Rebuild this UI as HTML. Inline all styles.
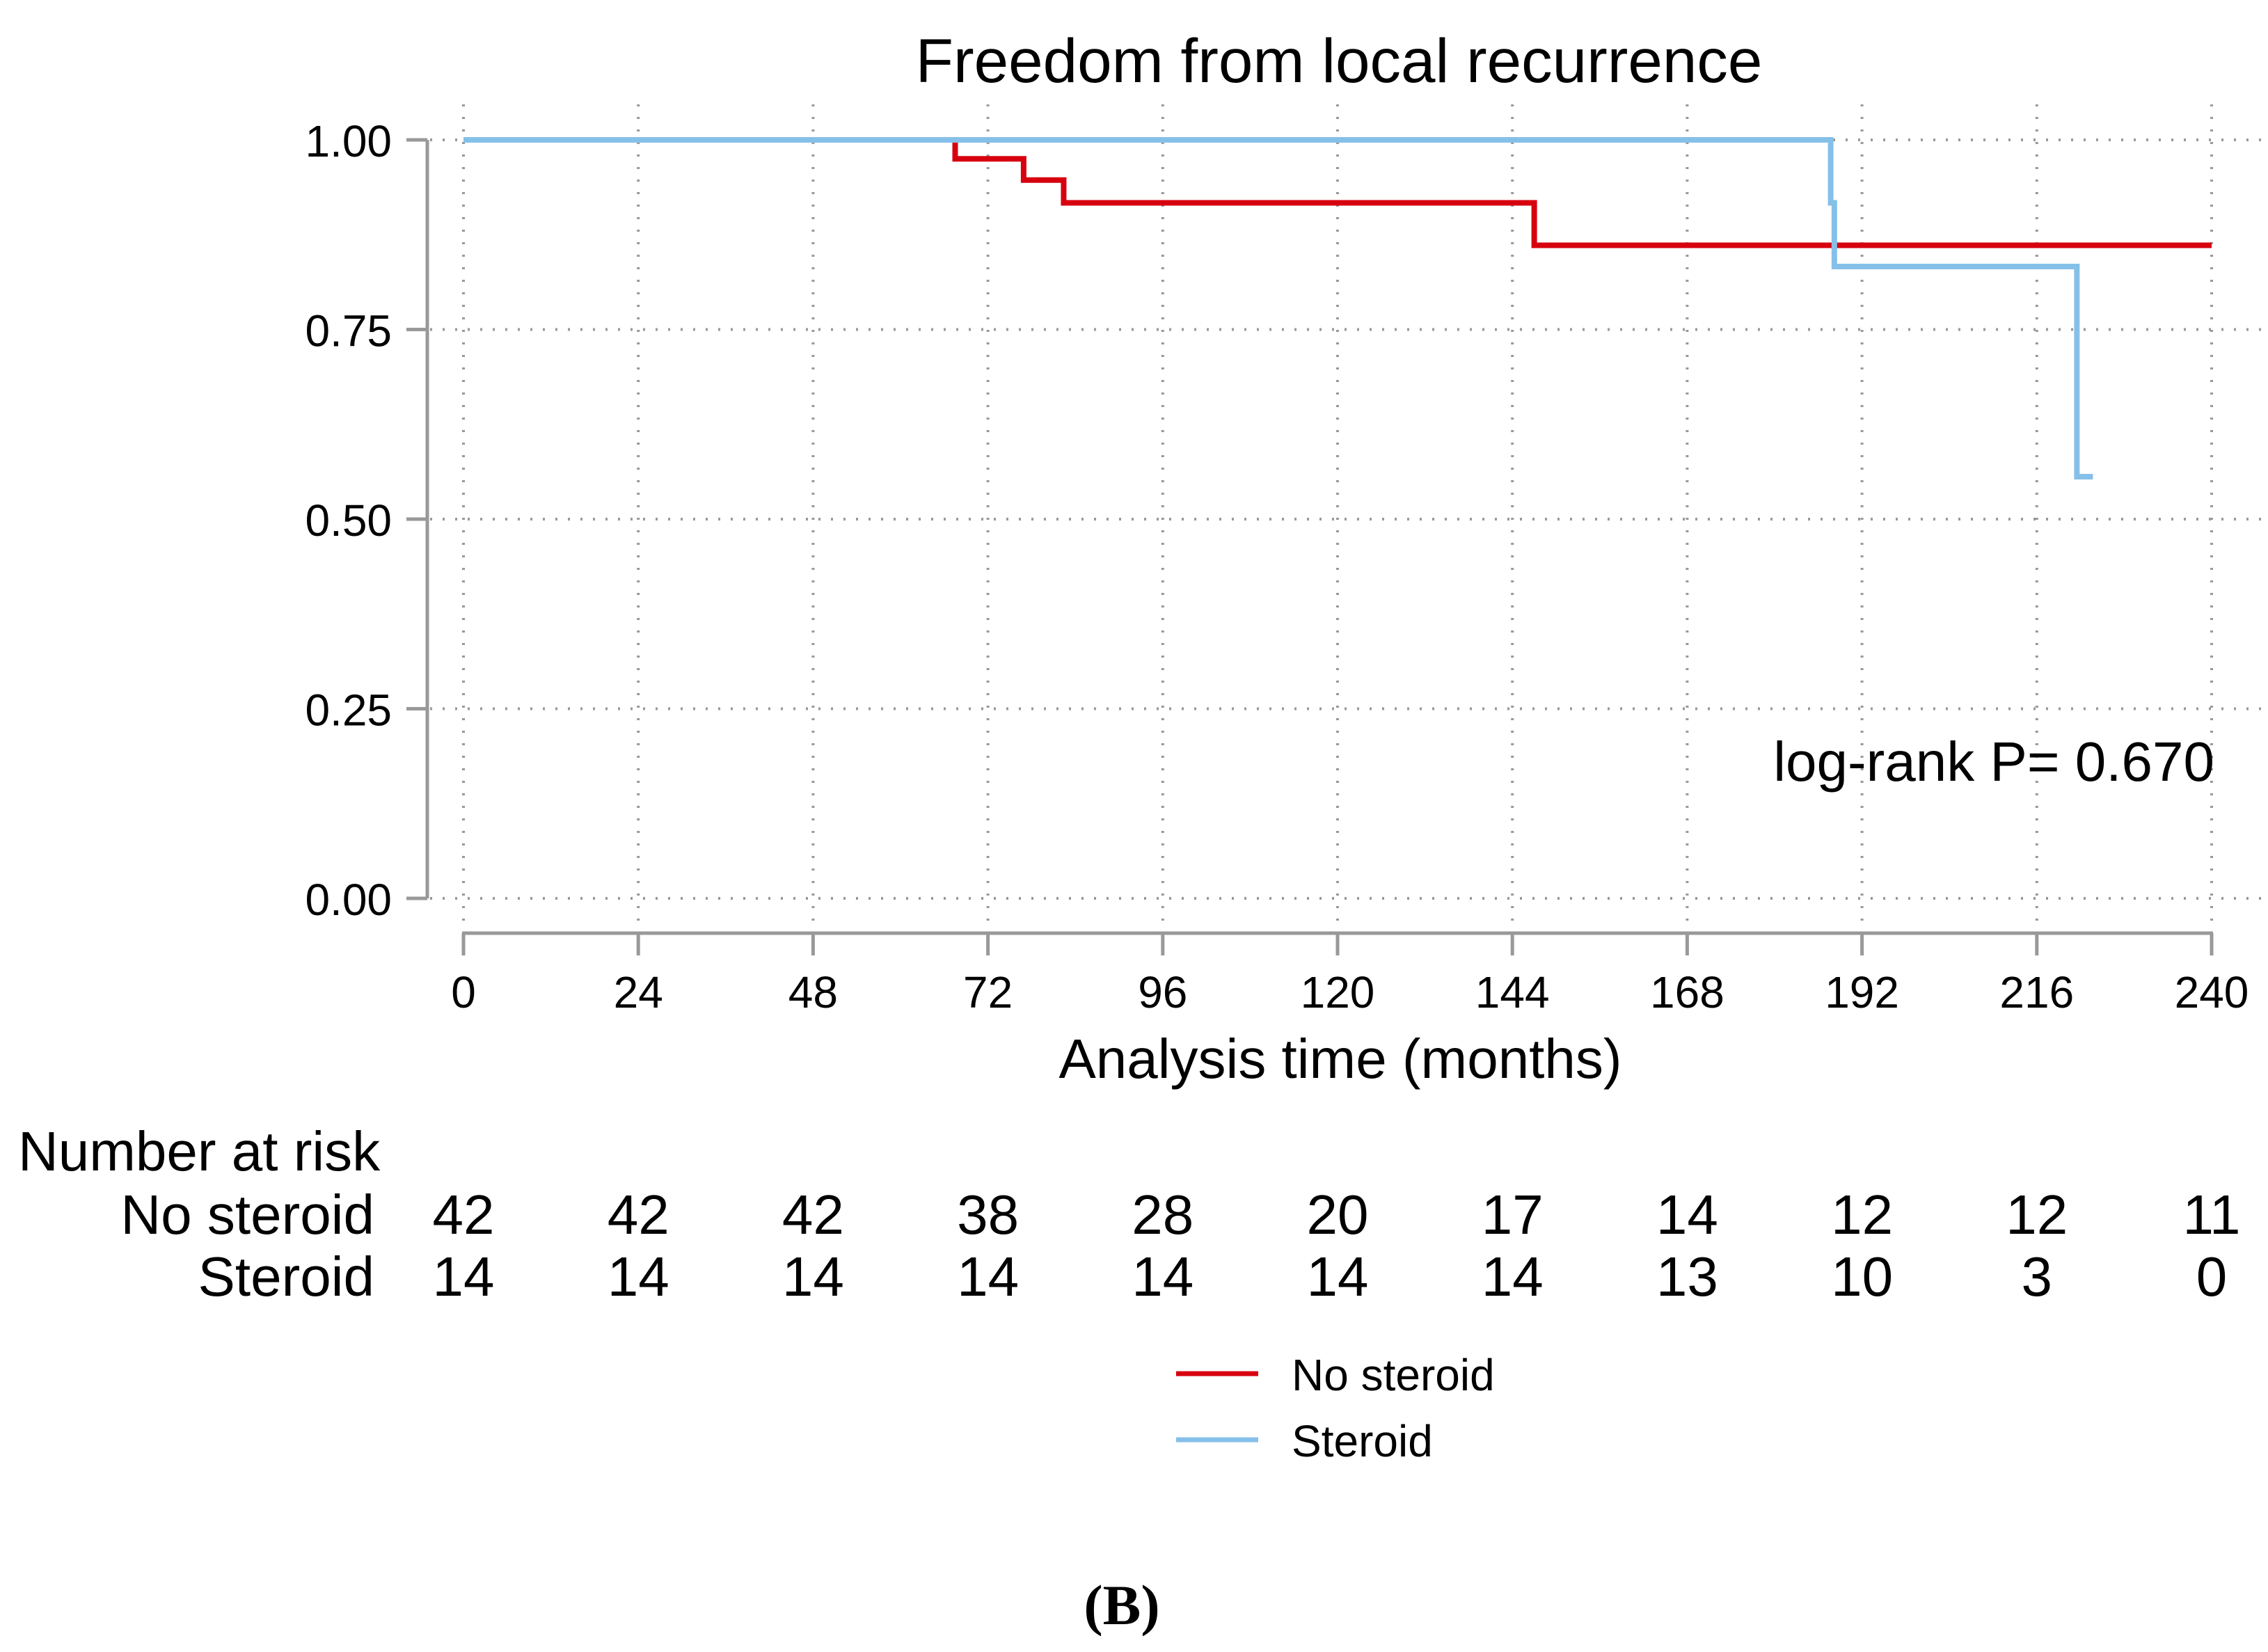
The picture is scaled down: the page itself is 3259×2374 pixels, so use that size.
<!DOCTYPE html>
<html><head><meta charset="utf-8"><style>
html,body{margin:0;padding:0;background:#fff;}
svg{display:block;font-family:"Liberation Sans",Arial,sans-serif;}
</style></head><body>
<svg id="chart" width="3259" height="2374" viewBox="0 0 3259 2374" xmlns="http://www.w3.org/2000/svg">
<rect width="3259" height="2374" fill="#fff"/>
<g id="grid"></g><g id="axes"></g><g id="series"></g><g id="labels"></g>
</svg>
<script>
const xTicks=[0,24,48,72,96,120,144,168,192,216,240];
const yTicks=[0,0.25,0.5,0.75,1.0];
const yTickLabels=["0.00","0.25","0.50","0.75","1.00"];
const noSteroidT=[0,67.5,76.9,82.4,147.0,240];
const noSteroidS=[1,0.975,0.947,0.917,0.861,0.861];
const steroidT=[0,187.7,188.2,221.5,223.7];
const steroidS=[1,0.917,0.833,0.556,0.556];
const riskNoSteroid=[42,42,42,38,28,20,17,14,12,12,11];
const riskSteroid=[14,14,14,14,14,14,14,13,10,3,0];

const NS="http://www.w3.org/2000/svg";
const X=t=>666+t*(3178-666)/240;
const Y=s=>1291-s*(1291-201);
function mk(tag,attrs,parent,text){const e=document.createElementNS(NS,tag);for(const k in attrs)e.setAttribute(k,attrs[k]);if(text!==undefined)e.textContent=text;document.getElementById(parent).appendChild(e);return e;}

xTicks.forEach(t=>{
  const g=mk('line',{x1:X(t),x2:X(t),y1:150,y2:1335,stroke:'#999','stroke-width':4,'stroke-dasharray':'3 15'},'grid');
  
  
  const tk=mk('line',{x1:X(t),x2:X(t),y1:1341,y2:1373,stroke:'#999','stroke-width':5},'axes');
  
  
  const lb=mk('text',{x:X(t),y:1448,'font-size':64,'text-anchor':'middle'},'labels',String(t));
  
  
});
yTicks.forEach((v,i)=>{
  const g=mk('line',{x1:600,x2:3250,y1:Y(v),y2:Y(v),stroke:'#999','stroke-width':4,'stroke-dasharray':'3 15'},'grid');
  
  
  const tk=mk('line',{x1:584,x2:614,y1:Y(v),y2:Y(v),stroke:'#999','stroke-width':5},'axes');
  
  
  const lb=mk('text',{x:563,y:Y(v)+24,'font-size':64,'text-anchor':'end'},'labels',yTickLabels[i]);
  
  
});
const ya=mk('line',{x1:614,x2:614,y1:Y(1),y2:Y(0),stroke:'#999','stroke-width':5},'axes');


const xa=mk('line',{x1:X(0)-2,x2:X(240)+2,y1:1341,y2:1341,stroke:'#999','stroke-width':5},'axes');



function stepPath(ts,ss){let d=`M${X(ts[0])},${Y(ss[0])}`;for(let i=1;i<ts.length;i++){d+=` H${X(ts[i])} V${Y(ss[i])}`;}return d;}
const p1=mk('path',{d:stepPath(noSteroidT,noSteroidS),fill:'none',stroke:'#d7000f','stroke-width':8,'stroke-linejoin':'miter'},'series');


const p2=mk('path',{d:stepPath(steroidT,steroidS),fill:'none',stroke:'#85c0e9','stroke-width':8,'stroke-linejoin':'miter'},'series');



riskNoSteroid.forEach((n,i)=>{
  const t=mk('text',{x:X(xTicks[i]),y:1773,'font-size':80,'text-anchor':'middle'},'labels',String(n));
  
  
});
riskSteroid.forEach((n,i)=>{
  const t=mk('text',{x:X(xTicks[i]),y:1862,'font-size':80,'text-anchor':'middle'},'labels',String(n));
  
  
});
</script>
<script>
(function(){
const NS="http://www.w3.org/2000/svg";
function txt(name,x,y,size,anchor,s,extra){const e=document.createElementNS(NS,'text');e.setAttribute('x',x);e.setAttribute('y',y);e.setAttribute('font-size',size);e.setAttribute('text-anchor',anchor);if(extra)for(const k in extra)e.setAttribute(k,extra[k]);e.textContent=s;


document.getElementById('labels').appendChild(e);}
txt('chart-title',1924,118,89,'middle','Freedom from local recurrence');
txt('x-axis-title',1926,1549,80,'middle','Analysis time (months)');
txt('logrank-annotation',3182,1122,80,'end','log-rank P= 0.670');
txt('risk-table-title',26,1682,80,'start','Number at risk');
txt('risk-row-label-no-steroid',538,1773,80,'end','No steroid');
txt('risk-row-label-steroid',538,1862,80,'end','Steroid');
txt('legend-label-no-steroid',1856,1998,64,'start','No steroid');
txt('legend-label-steroid',1856,2093,64,'start','Steroid');
txt('panel-label',1612,2334,82,'middle','(B)',{'font-family':'"Liberation Serif",serif','font-weight':'bold'});
function ln(name,y,c){const e=document.createElementNS(NS,'line');e.setAttribute('x1',1690);e.setAttribute('x2',1808);e.setAttribute('y1',y);e.setAttribute('y2',y);e.setAttribute('stroke',c);e.setAttribute('stroke-width',7);


document.getElementById('labels').appendChild(e);}
ln('legend-swatch-no-steroid',1974,'#d7000f');
ln('legend-swatch-steroid',2069,'#85c0e9');
})();
</script>
</body></html>
